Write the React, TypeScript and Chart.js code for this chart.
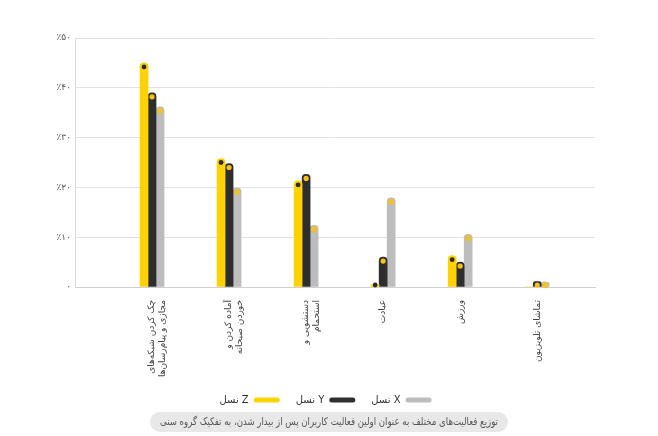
import React, { useEffect, useRef } from "react";
import { Chart, registerables } from "chart.js";

Chart.register(...registerables);

const FONT = "'DejaVu Sans', 'Noto Sans', sans-serif";

const categories: string[][] = [
  ["چک کردن شبکه‌های", "مجازی و پیام‌رسان‌ها"],
  ["آماده کردن و", "خوردن صبحانه"],
  ["دستشویی و", "استحمام"],
  ["عبادت"],
  ["ورزش"],
  ["تماشای تلویزیون"],
];

const seriesNames = ["نسل Z", "نسل Y", "نسل X"];
const genZ = [45, 25.8, 21.3, 0.5, 6.3, 0];
const genY = [39, 24.8, 22.6, 6, 5, 1.1];
const genX = [36.2, 19.9, 12.4, 17.9, 10.6, 1];

const seriesColors = ["#FFD200", "#2E2E2E", "#BDBDBD"];
const dotColors = ["#2B2B2B", "#F2C21B", "#E8C23C"];
const dotRadius = [2.4, 2.6, 3.2];

const yMax = 50;
const yStep = 10;

const caption =
  "توزیع فعالیت‌های مختلف به عنوان اولین فعالیت کاربران پس از بیدار شدن، به تفکیک گروه سنی";

const faDigits = "۰۱۲۳۴۵۶۷۸۹";
const toFa = (n: number) => String(n).replace(/\d/g, (d) => faDigits[Number(d)]);

const dotPlugin = {
  id: "barDots",
  afterDatasetsDraw(chart: any) {
    const ctx = chart.ctx;
    chart.data.datasets.forEach((ds: any, di: number) => {
      const meta = chart.getDatasetMeta(di);
      meta.data.forEach((el: any, i: number) => {
        const v = ds.data[i].y;
        if (!(v > 0)) return;
        const { x, y, base } = el.getProps(["x", "y", "base"], true);
        const cy = Math.min(y + 4, base - 1.5);
        ctx.save();
        ctx.beginPath();
        ctx.arc(x, cy, dotRadius[di], 0, Math.PI * 2);
        ctx.fillStyle = dotColors[di];
        ctx.fill();
        ctx.restore();
      });
    });
  },
};

const captionPlugin = {
  id: "captionPill",
  afterDraw(chart: any) {
    const ctx = chart.ctx;
    const w = chart.width;
    ctx.save();
    ctx.font = `10.5px ${FONT}`;
    const tw = ctx.measureText(caption).width;
    const targetText = 338;
    const sx = Math.min(1, targetText / tw);
    const pw = tw * sx + 20;
    const ph = 20;
    const x = (w - pw) / 2;
    const y = chart.height - 24;
    ctx.fillStyle = "#E8E8E8";
    ctx.beginPath();
    ctx.roundRect(x, y, pw, ph, 10);
    ctx.fill();
    ctx.fillStyle = "#555555";
    ctx.textAlign = "center";
    ctx.textBaseline = "middle";
    ctx.direction = "rtl";
    ctx.translate(w / 2, y + ph / 2 + 0.5);
    ctx.scale(sx, 1);
    ctx.fillText(caption, 0, 0);
    ctx.restore();
  },
};

export default function App() {
  const ref = useRef<HTMLCanvasElement | null>(null);

  useEffect(() => {
    if (!ref.current) return;
    Chart.defaults.font.family = FONT;
    const series = [genZ, genY, genX];
    const chart = new Chart(ref.current, {
      type: "bar",
      data: {
        datasets: series.map((vals, si) => ({
          label: seriesNames[si],
          data: vals.map((v, i) => ({ x: i + 1, y: v })),
          backgroundColor: seriesColors[si],
          borderWidth: 0,
          borderRadius: 4,
          barThickness: 8,
        })),
      },
      options: {
        animation: false,
        responsive: true,
        maintainAspectRatio: false,
        layout: { padding: { top: 30, right: 7, bottom: 21, left: 0 } },
        scales: {
          x: {
            type: "linear",
            min: 0,
            max: 6.75,
            offset: false,
            grid: { display: false, offset: false },
            border: { display: true, color: "#D0D0D0" },
            ticks: {
              stepSize: 1,
              autoSkip: false,
              maxRotation: 90,
              minRotation: 90,
              padding: 5,
              color: "#444444",
              font: { family: FONT, size: 9 },
              callback: (v: any) => {
                const c = categories[Number(v) - 1];
                if (!c) return "";
                return c.length === 1 ? c[0] : c;
              },
            },
            afterFit: (s: any) => {
              s.height = 92;
            },
          },
          y: {
            min: 0,
            max: yMax,
            grid: { color: "#E2E2E2", drawTicks: false },
            border: { display: true, color: "#DADADA" },
            ticks: {
              stepSize: yStep,
              padding: 4,
              color: "#555555",
              font: { family: FONT, size: 9 },
              callback: (v: any) => (Number(v) === 0 ? "۰" : "٪" + toFa(Number(v))),
            },
            afterFit: (s: any) => {
              s.width = 67;
            },
          },
          yRightSpace: {
            type: "linear",
            position: "right",
            display: true,
            grid: { display: false, drawTicks: false },
            border: { display: false },
            ticks: { display: false },
            afterFit: (s: any) => {
              s.width = 48;
            },
          },
        },
        plugins: {
          legend: {
            position: "bottom",
            rtl: true,
            reverse: true,
            labels: {
              boxWidth: 26,
              boxHeight: 5,
              useBorderRadius: true,
              borderRadius: 2.5,
              color: "#333333",
              font: { family: FONT, size: 10 },
              padding: 16,
            },
          },
          tooltip: { enabled: false },
        },
      } as any,
      plugins: [dotPlugin, captionPlugin],
    });
    return () => chart.destroy();
  }, []);

  return (
    <div style={{ width: 642, height: 428, position: "relative" }}>
      <canvas ref={ref} />
    </div>
  );
}
